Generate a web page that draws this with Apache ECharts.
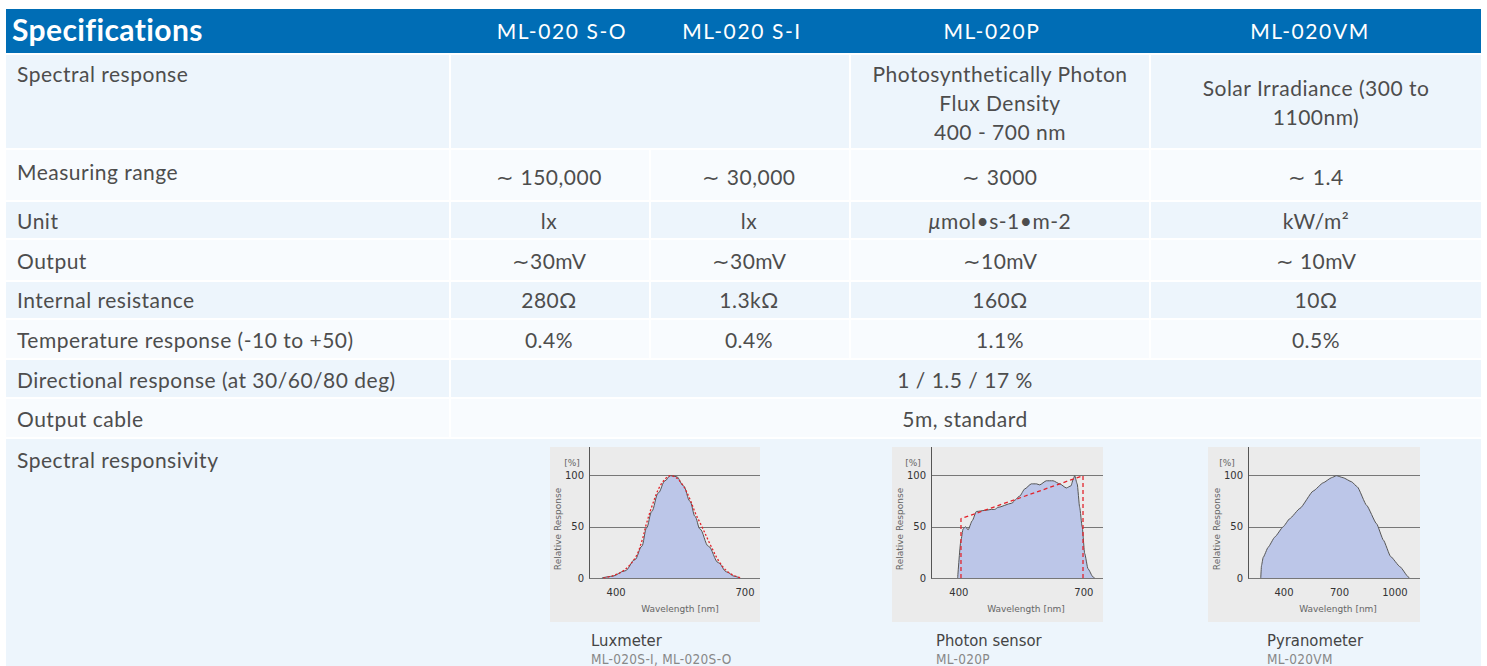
<!DOCTYPE html>
<html>
<head>
<meta charset="utf-8">
<script src="https://cdn.jsdelivr.net/npm/echarts@6.0.0/dist/echarts.min.js"></script>
<style>
  html, body { margin: 0; padding: 0; background: #ffffff; }
  #page { position: relative; width: 1487px; height: 666px; overflow: hidden; font-family: Lato, "Open Sans", sans-serif; }
  .cell { position: absolute; }
  .txt { position: absolute; white-space: nowrap; color: #4d4d4d; font-size: 21px; letter-spacing: 0.5px; }
  .chart { position: absolute; }
  .cap { position: absolute; white-space: nowrap; font-family: "DejaVu Sans Condensed", "Liberation Sans Narrow", sans-serif; }
</style>
</head>
<body>
<div id="page"></div>
<script>
// ---- table data ----
var models = ['ML-020 S-O', 'ML-020 S-I', 'ML-020P', 'ML-020VM'];
var rowLabels = ['Spectral response', 'Measuring range', 'Unit', 'Output', 'Internal resistance',
                 'Temperature response (-10 to +50)', 'Directional  response (at 30/60/80 deg)',
                 'Output cable', 'Spectral responsivity'];
var spectralP = ['Photosynthetically Photon', 'Flux Density', '400 - 700 nm'];
var spectralVM = ['Solar Irradiance (300 to', '1100nm)'];
var measuringRange = ['\u223c 150,000', '\u223c 30,000', '\u223c 3000', '\u223c 1.4'];
var units = ['lx', 'lx', '<i>\u03bc</i>mol\u2022s-1\u2022m-2', 'kW/m\u00b2'];
var outputs = ['\u223c30mV', '\u223c30mV', '\u223c10mV', '\u223c 10mV'];
var resistance = ['280\u03a9', '1.3k\u03a9', '160\u03a9', '10\u03a9'];
var tempResponse = ['0.4%', '0.4%', '1.1%', '0.5%'];
var directional = '1 / 1.5 / 17 %';
var cable = '5m, standard';
var captions = [['Luxmeter', 'ML-020S-I, ML-020S-O'], ['Photon sensor', 'ML-020P'], ['Pyranometer', 'ML-020VM']];

// ---- chart data: [wavelength nm, relative response %] ----
var luxSensor = [[367,0],[390,1.6],[421,7],[444,18],[460,31],[471,49],[483,65],[498,83],[514,95],[526,100],
                 [541,99],[557,90],[572,75],[584,60],[595,48],[615,31],[638,15],[657,6],[676,1.6],[688,0]];
var luxIdeal = [[371,0],[395,2.5],[420,8],[445,20],[460,36],[470,52],[485,72],[500,88],[515,97],[526,100],
                [540,98],[555,91],[570,79],[585,63],[600,50],[620,32],[640,16],[660,6],[680,1.5],[692,0]];
var parSensor = [[397,0],[405,37],[410,48],[416,50],[422,47],[432,56],[442,65],[462,66],[478,67],[486,67],
                 [494,69],[526,73],[546,80],[558,87],[574,92],[586,92],[594,91],[610,95],[626,95],[642,92],
                 [658,88],[669,90],[675,97],[678,100],[684,92],[690,69],[696,50],[702,24],[710,9],[722,1],[726,0]];
var parIdeal = [[405,0],[405,58],[698,100],[698,0]];
var pyraSensor = [[274,0],[278,12],[287,20],[314,30],[350,40],[395,50],[431,58],[486,68],[558,85],[612,93],
                  [657,98],[684,100],[720,98],[766,94],[797,89],[847,71],[901,53],[938,37],[977,21],[1028,11],
                  [1073,1],[1079,0]];
var luxTicks = [400, 700];
var parTicks = [400, 700];
var pyraTicks = [400, 700, 1000];

var page = document.getElementById('page');

function box(l, t, w, h, bg) {
  var d = document.createElement('div');
  d.className = 'cell';
  d.style.cssText = 'left:' + l + 'px;top:' + t + 'px;width:' + w + 'px;height:' + h + 'px;background:' + bg + ';';
  page.appendChild(d);
  return d;
}
function text(html, x, cy, align, css) {
  var d = document.createElement('div');
  d.className = 'txt';
  d.innerHTML = html;
  var lh = 30;
  var s = 'top:' + (cy - lh / 2) + 'px;height:' + lh + 'px;line-height:' + lh + 'px;';
  if (align === 'center') s += 'left:' + (x - 300) + 'px;width:600px;text-align:center;';
  else s += 'left:' + x + 'px;';
  d.style.cssText = s + (css || '');
  page.appendChild(d);
}

// header
box(6, 9, 1475, 44, '#006db5');
text('Specifications', 12, 29, 'left', 'color:#fff;font-weight:700;font-size:30px;letter-spacing:0.4px;');
var headX = [562, 742, 992, 1310];
models.forEach(function (m, i) { text(m, headX[i], 31, 'center', 'color:#fff;font-size:21px;letter-spacing:1.6px;'); });

// rows
var blue = '#edf5fc', white = '#f8fbfe';
var rowTop = [55, 150, 202, 240, 282, 320, 360, 399, 439];
var rowBot = [148, 200, 238, 280, 318, 358, 397, 437, 666];
var labelY = [74, 172, 221, 261, 300, 340, 380, 419, 460];
var colEdges = [[6, 449], [451, 649], [651, 849], [851, 1149], [1151, 1481]];
var colX = [549, 749, 1000, 1316];
var rowSplits = [
  [[6, 449], [451, 849], [851, 1149], [1151, 1481]],
  colEdges, colEdges, colEdges, colEdges, colEdges,
  [[6, 449], [451, 1481]],
  [[6, 449], [451, 1481]],
  [[6, 1481]]
];
rowTop.forEach(function (t, r) {
  var bg = r % 2 === 0 ? blue : white;
  rowSplits[r].forEach(function (c) { box(c[0], t, c[1] - c[0], rowBot[r] - t, bg); });
  text(rowLabels[r], 17, labelY[r], 'left');
});

spectralP.forEach(function (s, i) { text(s, 1000, 74 + i * 29, 'center'); });
spectralVM.forEach(function (s, i) { text(s, 1316, 88 + i * 29, 'center'); });
[measuringRange, units, outputs, resistance, tempResponse].forEach(function (arr, k) {
  var cy = [177, 221, 261, 300, 340][k];
  arr.forEach(function (v, i) { text(v, colX[i], cy, 'center'); });
});
text(directional, 965, 380, 'center');
text(cable, 965, 419, 'center');

// ---- spectral charts ----
var chartSpecs = [
  { box: [550, 447, 210, 175], left: 39, min: 337, max: 735, ticks: luxTicks, sensor: luxSensor, ideal: luxIdeal,
    idealType: [2, 2], smooth: 0.35, pct: 22, rel: 8, wave: 130 },
  { box: [892, 447, 211, 175], left: 39, min: 333, max: 746, ticks: parTicks, sensor: parSensor, ideal: parIdeal,
    idealType: [4, 3], smooth: 0.2, pct: 21, rel: 8, wave: 134 },
  { box: [1208, 447, 212, 175], left: 40, min: 205, max: 1136, ticks: pyraTicks, sensor: pyraSensor, ideal: null,
    smooth: 0.15, pct: 19, rel: 9, wave: 130 }
];
var capX = [591, 936, 1267];

chartSpecs.forEach(function (sp, i) {
  var dom = document.createElement('div');
  dom.className = 'chart';
  dom.style.cssText = 'left:' + sp.box[0] + 'px;top:' + sp.box[1] + 'px;width:' + sp.box[2] + 'px;height:' + sp.box[3] + 'px;';
  page.appendChild(dom);
  var myChart = echarts.init(dom, null, { renderer: 'svg' });

  var series = [{
    type: 'line',
    data: sp.sensor,
    symbol: 'none',
    smooth: sp.smooth,
    smoothMonotone: 'x',
    lineStyle: { color: '#555', width: 1 },
    areaStyle: { color: '#bcc6e8', opacity: 1 },
    z: 2
  }];
  if (sp.ideal) {
    series.push({
      type: 'line',
      data: sp.ideal,
      symbol: 'none',
      smooth: i === 0 ? 0.35 : false,
      lineStyle: { color: '#e3232b', width: 1.3, type: sp.idealType },
      z: 3
    });
  }

  var option = {
    animation: false,
    backgroundColor: '#ebebeb',
    grid: { left: sp.left, right: 0, top: 0, bottom: 44 },
    xAxis: {
      type: 'value', min: sp.min, max: sp.max,
      axisLine: { show: false },
      axisTick: { show: false },
      splitLine: { show: false },
      axisLabel: {
        customValues: sp.ticks, color: '#333', fontSize: 10, fontFamily: 'DejaVu Sans', margin: 9,
        formatter: function (v) { return String(v); }
      }
    },
    yAxis: {
      type: 'value', min: 0, max: 128, interval: 50,
      axisLine: { show: true, lineStyle: { color: '#555', width: 1 } },
      axisTick: { show: false },
      axisLabel: {
        color: '#333', fontSize: 10, fontFamily: 'DejaVu Sans', margin: 5,
        formatter: function (v) { return v % 50 === 0 ? String(v) : ''; }
      },
      splitLine: { show: true, showMaxLine: false, lineStyle: { color: '#777', width: 1 } }
    },
    graphic: [
      { type: 'text', x: sp.pct, y: 16, style: { text: '[%]', fill: '#666', font: '9px "DejaVu Sans"', align: 'center', verticalAlign: 'middle' } },
      { type: 'text', x: sp.rel, y: 82, rotation: Math.PI / 2, style: { text: 'Relative Response', fill: '#666', font: '9px "DejaVu Sans"', align: 'center', verticalAlign: 'middle' } },
      { type: 'text', x: sp.wave, y: 162, style: { text: 'Wavelength [nm]', fill: '#666', font: '9px "DejaVu Sans"', align: 'center', verticalAlign: 'middle' } }
    ],
    series: series
  };
  myChart.setOption(option, true);

  var c1 = document.createElement('div');
  c1.className = 'cap';
  c1.textContent = captions[i][0];
  c1.style.cssText = 'left:' + capX[i] + 'px;top:631px;font-size:16.5px;line-height:20px;color:#444;';
  page.appendChild(c1);
  var c2 = document.createElement('div');
  c2.className = 'cap';
  c2.textContent = captions[i][1];
  c2.style.cssText = 'left:' + capX[i] + 'px;top:651px;font-size:13.5px;line-height:16px;color:#888;letter-spacing:0.3px;';
  page.appendChild(c2);
});
</script>
</body>
</html>
